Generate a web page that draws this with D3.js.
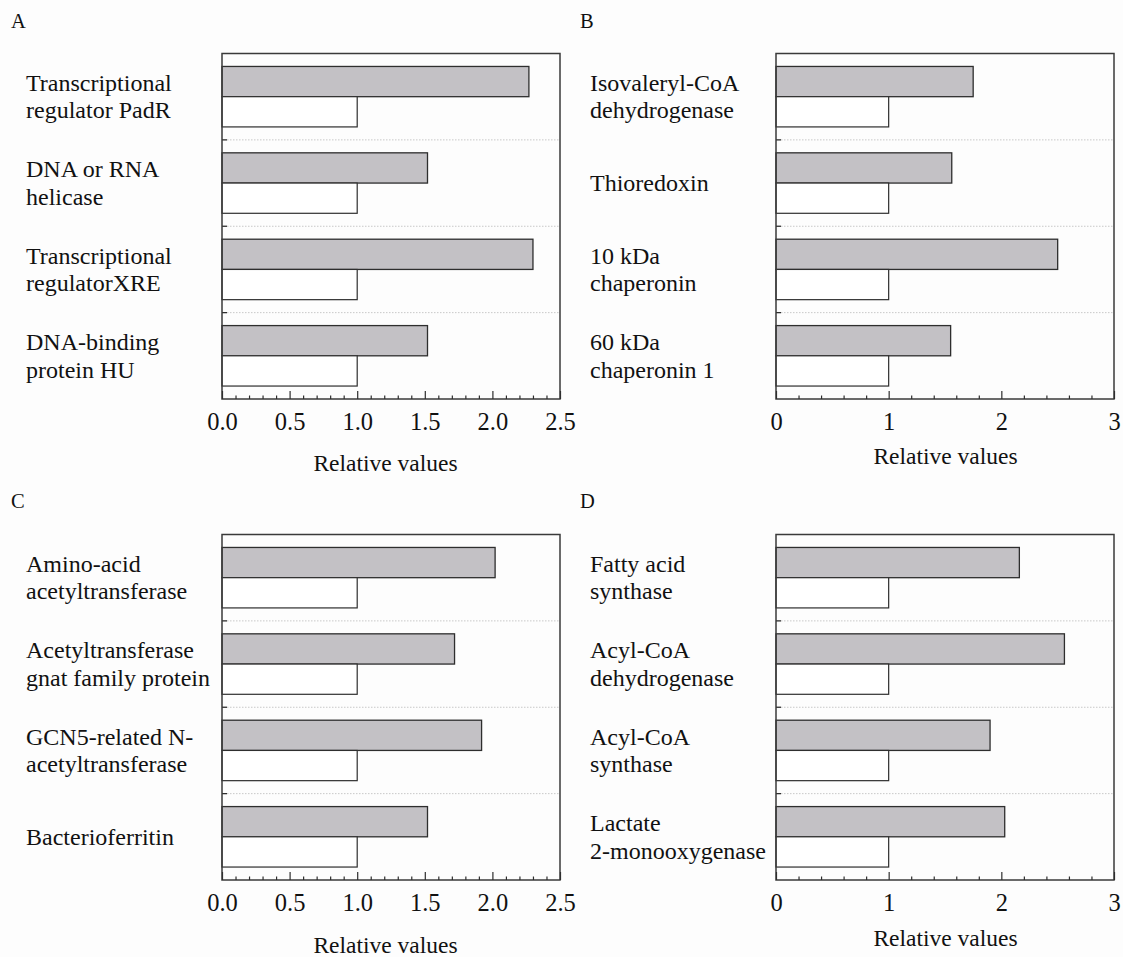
<!DOCTYPE html>
<html>
<head>
<meta charset="utf-8">
<script src="https://cdn.jsdelivr.net/npm/d3@7"></script>
<style>
  html, body { margin: 0; padding: 0; background: #fdfdfd; }
  svg { display: block; }
  text { font-family: "Liberation Serif", "Times New Roman", serif; fill: #111; }
</style>
</head>
<body>
<svg id="chart" width="1123" height="957"></svg>
<script>
// Panel letters
const panelLetters = ["A", "B", "C", "D"];

// Category labels (each entry: the lines of the label)
const categoriesA = [["Transcriptional", "regulator PadR"], ["DNA or RNA", "helicase"], ["Transcriptional", "regulatorXRE"], ["DNA-binding", "protein HU"]];
const categoriesB = [["Isovaleryl-CoA", "dehydrogenase"], ["Thioredoxin"], ["10 kDa", "chaperonin"], ["60 kDa", "chaperonin 1"]];
const categoriesC = [["Amino-acid", "acetyltransferase"], ["Acetyltransferase", "gnat family protein"], ["GCN5-related N-", "acetyltransferase"], ["Bacterioferritin"]];
const categoriesD = [["Fatty acid", "synthase"], ["Acyl-CoA", "dehydrogenase"], ["Acyl-CoA", "synthase"], ["Lactate", "2-monooxygenase"]];

// Relative values: treated (grey bars) and control (white bars)
const treatedA = [2.27, 1.52, 2.30, 1.52];
const treatedB = [1.75, 1.56, 2.50, 1.55];
const treatedC = [2.02, 1.72, 1.92, 1.52];
const treatedD = [2.16, 2.56, 1.90, 2.03];
const controlA = [1, 1, 1, 1];
const controlB = [1, 1, 1, 1];
const controlC = [1, 1, 1, 1];
const controlD = [1, 1, 1, 1];

// Axis settings
const axisMaxAC = 2.5, majorTicksAC = [0, 0.5, 1.0, 1.5, 2.0, 2.5], minorStepAC = 0.1;
const axisMaxBD = 3, majorTicksBD = [0, 1, 2, 3], minorStepBD = 0.2;
const axisTitle = "Relative values";

const panels = [
  { letter: panelLetters[0], cats: categoriesA, treated: treatedA, control: controlA,
    max: axisMaxAC, major: majorTicksAC, minorStep: minorStepAC, fmt: d3.format(".1f"),
    x0: 222, x1: 560, y0: 53.5, y1: 399, lx: 11, ly: 28.3, tx: 26, titleX: 385.5, titleY: 471 },
  { letter: panelLetters[1], cats: categoriesB, treated: treatedB, control: controlB,
    max: axisMaxBD, major: majorTicksBD, minorStep: minorStepBD, fmt: d3.format("d"),
    x0: 776, x1: 1114, y0: 53.5, y1: 399, lx: 580, ly: 28.3, tx: 590, titleX: 945.5, titleY: 463.5 },
  { letter: panelLetters[2], cats: categoriesC, treated: treatedC, control: controlC,
    max: axisMaxAC, major: majorTicksAC, minorStep: minorStepAC, fmt: d3.format(".1f"),
    x0: 222, x1: 560, y0: 534.5, y1: 880, lx: 11, ly: 508.3, tx: 26, titleX: 385.5, titleY: 953 },
  { letter: panelLetters[3], cats: categoriesD, treated: treatedD, control: controlD,
    max: axisMaxBD, major: majorTicksBD, minorStep: minorStepBD, fmt: d3.format("d"),
    x0: 776, x1: 1114, y0: 534.5, y1: 880, lx: 580, ly: 508.3, tx: 590, titleX: 945.5, titleY: 946 }
];

const svg = d3.select("#chart");
const grey = "#c3c1c5";
const ink = "#2e2e2e";

panels.forEach(p => {
  const g = svg.append("g");
  const keys = p.cats.map((c, i) => i);

  const x = d3.scaleLinear().domain([0, p.max]).range([p.x0, p.x1]);
  const y = d3.scaleBand().domain(keys).range([p.y0, p.y1]).paddingInner(0.3).paddingOuter(0.15);
  const sub = d3.scaleBand().domain(["treated", "control"]).range([0, y.bandwidth()]);

  // panel letter
  g.append("text").attr("x", p.lx).attr("y", p.ly).attr("font-size", 20.5).text(p.letter);

  // dotted separators between categories, with short ticks on the left axis
  const step = y.step();
  const seps = keys.slice(1).map(k => p.y0 + k * step);
  g.selectAll(".sep").data(seps).join("line")
    .attr("x1", p.x0 + 5).attr("x2", p.x1).attr("y1", d => d).attr("y2", d => d)
    .attr("stroke", "#c8c8c8").attr("stroke-width", 1).attr("stroke-dasharray", "1.5,1.5");
  g.selectAll(".septick").data(seps).join("line")
    .attr("x1", p.x0).attr("x2", p.x0 + 5).attr("y1", d => d).attr("y2", d => d)
    .attr("stroke", ink).attr("stroke-width", 1.3);

  // bars
  g.selectAll(".bar-t").data(keys).join("rect")
    .attr("x", x(0)).attr("y", k => y(k) + sub("treated"))
    .attr("width", k => x(p.treated[k]) - x(0)).attr("height", sub.bandwidth())
    .attr("fill", grey).attr("stroke", ink).attr("stroke-width", 1.3);
  g.selectAll(".bar-c").data(keys).join("rect")
    .attr("x", x(0)).attr("y", k => y(k) + sub("control"))
    .attr("width", k => x(p.control[k]) - x(0)).attr("height", sub.bandwidth())
    .attr("fill", "#ffffff").attr("stroke", ink).attr("stroke-width", 1.2);

  // category labels
  keys.forEach(k => {
    const lines = p.cats[k];
    const cy = y(k) + y.bandwidth() / 2;
    const lh = 27.5;
    const t = g.append("text").attr("font-size", 24);
    lines.forEach((ln, i) => {
      t.append("tspan").attr("x", p.tx)
        .attr("y", cy + 8 + (i - (lines.length - 1) / 2) * lh)
        .text(ln);
    });
  });

  // frame
  g.append("rect").attr("x", p.x0).attr("y", p.y0)
    .attr("width", p.x1 - p.x0).attr("height", p.y1 - p.y0)
    .attr("fill", "none").attr("stroke", "#3a3a3a").attr("stroke-width", 1.5);

  // minor ticks (inward)
  const minor = d3.range(0, p.max + 1e-9, p.minorStep).filter(v => !p.major.some(m => Math.abs(m - v) < 1e-6));
  g.append("g").attr("transform", `translate(0,${p.y1})`)
    .call(d3.axisBottom(x).tickValues(minor).tickSize(-3.5).tickFormat(""))
    .call(a => a.select(".domain").remove())
    .call(a => a.selectAll("line").attr("stroke", ink).attr("stroke-width", 1.2));

  // major ticks with labels
  g.append("g").attr("transform", `translate(0,${p.y1})`)
    .call(d3.axisBottom(x).tickValues(p.major).tickSize(-8).tickPadding(0).tickFormat(p.fmt))
    .call(a => a.select(".domain").remove())
    .call(a => a.selectAll("line").attr("stroke", ink).attr("stroke-width", 1.2))
    .call(a => a.selectAll("text")
      .attr("dy", null).attr("y", 31)
      .attr("font-size", 24.5).attr("font-family", "Liberation Serif, Times New Roman, serif")
      .attr("fill", "#111"));

  // axis title
  g.append("text").attr("x", p.titleX).attr("y", p.titleY)
    .attr("text-anchor", "middle").attr("font-size", 23.5).text(axisTitle);
});
</script>
</body>
</html>
